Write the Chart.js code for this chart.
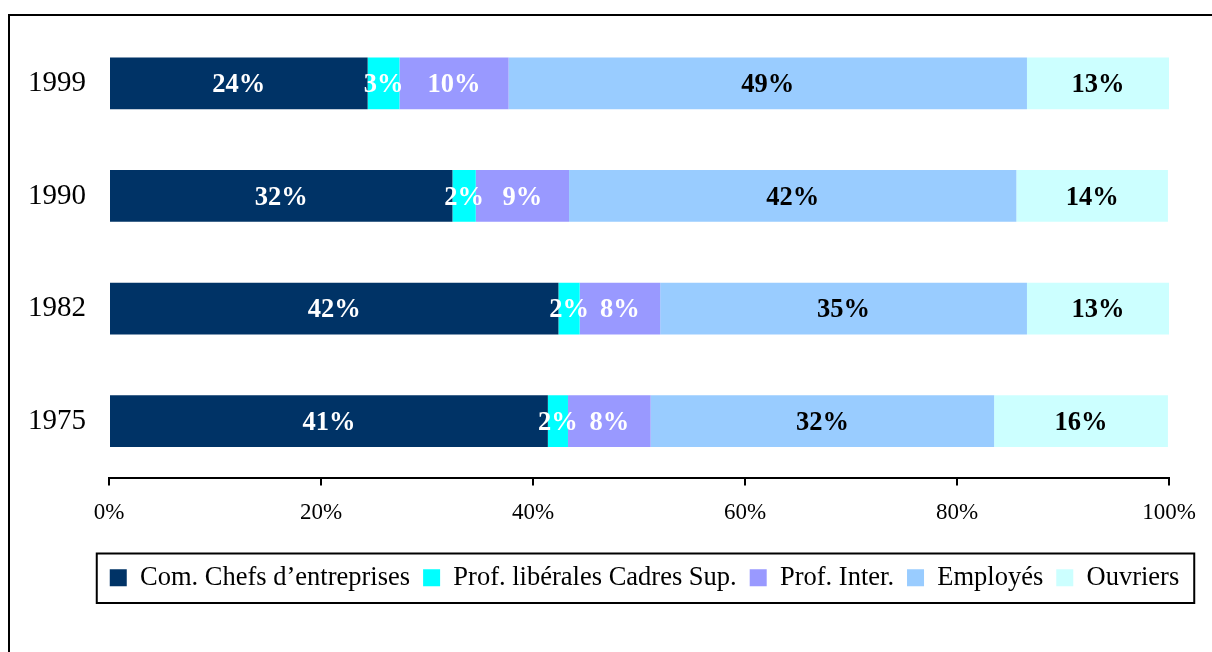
<!DOCTYPE html>
<html>
<head>
<meta charset="utf-8">
<script src="https://cdn.jsdelivr.net/npm/chart.js@4"></script>
<style>
  body { margin: 0; background: #fff; }
  #wrap { position: relative; width: 1212px; height: 652px; overflow: hidden; }
  #frame { position: absolute; left: 8px; top: 14px; width: 1300px; height: 800px; border: 2px solid #000; }
  #chart { position: absolute; left: 0; top: 0; }
</style>
</head>
<body>
<div id="wrap">
  <div id="frame"></div>
  <canvas id="chart" width="1212" height="652"></canvas>
</div>
<script>
// Répartition par catégorie socio-professionnelle
const years = ['1999', '1990', '1982', '1975'];
const seriesNames = ['Com. Chefs d’entreprises', 'Prof. libérales Cadres Sup.', 'Prof. Inter.', 'Employés', 'Ouvriers'];
const chefs = [24.4, 32.4, 42.4, 41.4];
const liberales = [3.0, 2.2, 2.0, 1.9];
const inter = [10.3, 8.8, 7.6, 7.8];
const employes = [48.9, 42.2, 34.6, 32.4];
const ouvriers = [13.4, 14.3, 13.4, 16.4];
const xTicks = [0, 20, 40, 60, 80, 100];

const colors = ['#003366', '#00FFFF', '#9999FF', '#99CCFF', '#CCFFFF'];
const labelColors = ['#fff', '#fff', '#fff', '#000', '#000'];
const serif = "'Liberation Serif', 'Times New Roman', serif";

// draws the % value in the middle of every segment
const barLabels = {
    id: 'barLabels',
    afterDatasetsDraw(chart) {
        const ctx = chart.ctx;
        ctx.save();
        ctx.font = 'bold 26.5px ' + serif;
        ctx.textAlign = 'center';
        ctx.textBaseline = 'middle';
        chart.data.datasets.forEach((ds, i) => {
            chart.getDatasetMeta(i).data.forEach((bar, j) => {
                const p = bar.getProps(['x', 'y', 'base'], true);
                ctx.fillStyle = labelColors[i];
                ctx.fillText(Math.round(ds.data[j]) + '%', (p.x + p.base) / 2, p.y + 2);
            });
        });
        ctx.restore();
    }
};

// move the legend a bit right, like in the original, and box it
const legendBox = {
    id: 'legendBox',
    afterLayout(chart) {
        chart.legend.left += 60;
        chart.legend.right += 60;
    },
    afterDraw(chart) {
        const boxes = chart.legend.legendHitBoxes;
        if (!boxes || !boxes.length) return;
        const first = boxes[0], last = boxes[boxes.length - 1];
        const ctx = chart.ctx;
        ctx.save();
        ctx.strokeStyle = '#000';
        ctx.lineWidth = 2;
        ctx.strokeRect(first.left - 13, first.top - 11, last.left + last.width - first.left + 28, first.height + 23);
        ctx.restore();
    }
};

const seriesData = [chefs, liberales, inter, employes, ouvriers];

new Chart(document.getElementById('chart'), {
    type: 'bar',
    data: {
        labels: years,
        datasets: seriesNames.map((name, i) => ({
            label: name,
            data: seriesData[i],
            backgroundColor: colors[i],
            borderWidth: 0,
            categoryPercentage: 1,
            barPercentage: 0.46
        }))
    },
    options: {
        indexAxis: 'y',
        responsive: false,
        animation: false,
        layout: { padding: { left: 0, right: 43, top: 27, bottom: 51 } },
        scales: {
            x: {
                stacked: true,
                min: 0,
                max: 100,
                afterBuildTicks: (scale) => { scale.ticks = xTicks.map(v => ({ value: v })); },
                afterFit: (scale) => { scale.height = 74; },
                grid: { drawOnChartArea: false, drawTicks: true, tickLength: 8, color: '#000', lineWidth: 2 },
                border: { color: '#000', width: 2 },
                ticks: {
                    color: '#000',
                    padding: 14,
                    maxRotation: 0,
                    font: { family: serif, size: 23 },
                    callback: (v) => v + '%'
                }
            },
            y: {
                stacked: true,
                afterFit: (scale) => {
                    scale.width = 109;
                    scale.paddingTop = 0;
                    scale.paddingBottom = 0;
                },
                grid: { display: false },
                border: { display: false },
                ticks: {
                    color: '#000',
                    padding: 15,
                    font: { family: serif, size: 29 }
                }
            }
        },
        plugins: {
            legend: {
                position: 'bottom',
                labels: {
                    color: '#000',
                    boxWidth: 17,
                    boxHeight: 17,
                    padding: 13,
                    font: { family: serif, size: 26.5 }
                }
            },
            tooltip: { enabled: false }
        }
    },
    plugins: [barLabels, legendBox]
});
</script>
</body>
</html>
